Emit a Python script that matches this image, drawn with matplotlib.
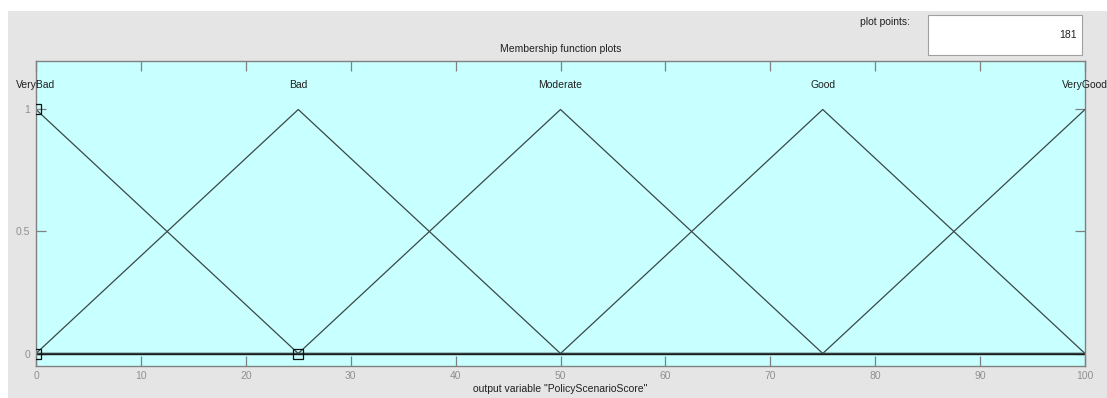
import matplotlib
matplotlib.use("Agg")
import matplotlib.pyplot as plt
from matplotlib.patches import Rectangle
import numpy as np

# Membership functions of the output variable (triangular: a, b, c)
mf_names = ["VeryBad", "Bad", "Moderate", "Good", "VeryGood"]
mf_params = [[-25, 0, 25], [0, 25, 50], [25, 50, 75], [50, 75, 100], [75, 100, 125]]
x_range = [0, 100]
n_points = 181
x_ticks = [0, 10, 20, 30, 40, 50, 60, 70, 80, 90, 100]
y_ticks = [0, 0.5, 1]
# Highlighted points of the selected functions
marker_x = [0, 0, 25]
marker_y = [1, 0, 0]

plt.rcParams['font.family'] = ['Liberation Sans', 'DejaVu Sans']
FS = 7.5

W, H = 1107, 398
fig = plt.figure(figsize=(W / 100, H / 100), dpi=100)
fig.patch.set_facecolor("white")

# grey panel
fig.patches.append(Rectangle((8 / W, 0), 1 - 8 / W, 1 - 11 / H, transform=fig.transFigure,
                             facecolor="#e5e5e5", edgecolor="none", zorder=-10))

ax = fig.add_axes([36 / W, (H - 365.7) / H, (1085 - 36) / W, (365.7 - 60.7) / H])
ax.set_facecolor("#c8ffff")
ax.set_xlim(x_range)
ax.set_ylim(-0.05, 1.2)

x = np.linspace(x_range[0], x_range[1], n_points)
for name, (a, b, c) in zip(mf_names, mf_params):
    y = np.maximum(np.minimum((x - a) / (b - a), (c - x) / (c - b)), 0)
    ax.plot(x, y, color="#3a4848", lw=0.9)
    ax.text(b, 1.1, name, ha="center", va="center", fontsize=FS, color="#202020", clip_on=False)

ax.axhline(0, color="#1a1a1a", lw=1.0)
ax.plot(marker_x, marker_y, ls="none", marker="s", ms=7.2, mfc="none", mec="#111111", mew=0.9,
        clip_on=True, zorder=5)

ax.set_xticks(x_ticks)
ax.set_yticks(y_ticks)
ax.set_yticklabels(["0", "0.5", "1"])
ax.tick_params(direction="in", length=7.2, width=0.9, color="#808080", labelcolor="#909090",
               labelsize=FS, top=True, right=True, pad=4)
for s in ax.spines.values():
    s.set_color("#808080")
    s.set_linewidth(1.0)

ax.set_title("Membership function plots", fontsize=FS, color="#202020", pad=6)
ax.set_xlabel('output variable "PolicyScenarioScore"', fontsize=FS, color="#202020", labelpad=2)

# plot points field
fig.text(885 / W, 1 - 22 / H, "plot points:", ha="center", va="center", fontsize=FS, color="#202020")
fig.patches.append(Rectangle((928 / W, 1 - 55 / H), (1082 - 928) / W, 40 / H, transform=fig.transFigure,
                             facecolor="white", edgecolor="#a0a0a0", lw=0.8, zorder=1))
fig.text(1077 / W, 1 - 35 / H, str(n_points), ha="right", va="center", fontsize=FS, color="#202020")

fig.savefig("out.png", dpi=100)
